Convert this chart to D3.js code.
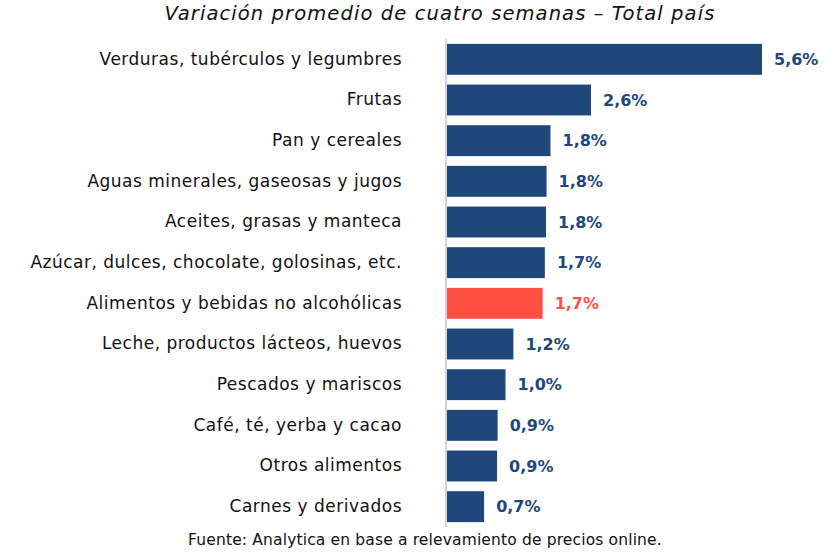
<!DOCTYPE html>
<html>
<head>
<meta charset="utf-8">
<script src="https://cdn.jsdelivr.net/npm/d3@7"></script>
<style>
  body { margin: 0; background: #fff; }
  svg { display: block; font-family: "DejaVu Sans", sans-serif; }
</style>
</head>
<body>
<svg id="chart" width="835" height="555"></svg>
<script>
// datos (variación %)
const categories = [
  "Verduras, tubérculos y legumbres",
  "Frutas",
  "Pan y cereales",
  "Aguas minerales, gaseosas y jugos",
  "Aceites, grasas y manteca",
  "Azúcar, dulces, chocolate, golosinas, etc.",
  "Alimentos y bebidas no alcohólicas",
  "Leche, productos lácteos, huevos",
  "Pescados y mariscos",
  "Café, té, yerba y cacao",
  "Otros alimentos",
  "Carnes y derivados"
];
const values = [5.6, 2.56, 1.84, 1.77, 1.76, 1.74, 1.70, 1.18, 1.04, 0.90, 0.89, 0.66];
const highlight = "Alimentos y bebidas no alcohólicas";

const title = "Variación promedio de cuatro semanas – Total país";
const source = "Fuente: Analytica en base a relevamiento de precios online.";

const blue = "#1f477a", red = "#ff5141";

const svg = d3.select("#chart");
const data = categories.map((c, i) => ({ cat: c, v: values[i] }));

const x = d3.scaleLinear().domain([0, 5.6]).range([447, 762]);
const y = d3.scaleBand().domain(categories).range([39, 527]).paddingInner(0.24).paddingOuter(0.12);

const fmt = v => d3.format(".1f")(v).replace(".", ",") + "%";

svg.append("text")
  .attr("x", 440).attr("y", 20)
  .attr("text-anchor", "middle")
  .attr("font-style", "italic")
  .attr("font-size", 19.5)
  .attr("letter-spacing", 1.1)
  .attr("fill", "#111")
  .text(title);

svg.selectAll("rect.bar").data(data).join("rect")
  .attr("class", "bar")
  .attr("x", x(0))
  .attr("y", d => y(d.cat))
  .attr("width", d => x(d.v) - x(0))
  .attr("height", y.bandwidth())
  .attr("fill", d => d.cat === highlight ? red : blue);

// eje de categorías
const yAxis = svg.append("g")
  .attr("transform", `translate(${x(0) - 1},0)`)
  .call(d3.axisLeft(y).tickSize(0).tickPadding(44));
yAxis.select(".domain").attr("stroke", "#d4d4d4").attr("stroke-width", 2)
  .attr("d", "M0,39V527");
yAxis.selectAll("text")
  .attr("font-size", 17)
  .attr("letter-spacing", 0.5)
  .attr("font-family", "'DejaVu Sans', sans-serif")
  .attr("fill", "#111");

svg.selectAll("text.val").data(data).join("text")
  .attr("class", "val")
  .attr("x", d => x(d.v) + 12)
  .attr("y", d => y(d.cat) + y.bandwidth() / 2)
  .attr("dy", "0.36em")
  .attr("font-size", 16)
  .attr("font-weight", "bold")
  .attr("fill", d => d.cat === highlight ? red : blue)
  .text(d => fmt(d.v));

svg.append("text")
  .attr("x", 425).attr("y", 545)
  .attr("text-anchor", "middle")
  .attr("font-size", 15.5)
  .attr("letter-spacing", 0.15)
  .attr("fill", "#111")
  .text(source);
</script>
</body>
</html>
